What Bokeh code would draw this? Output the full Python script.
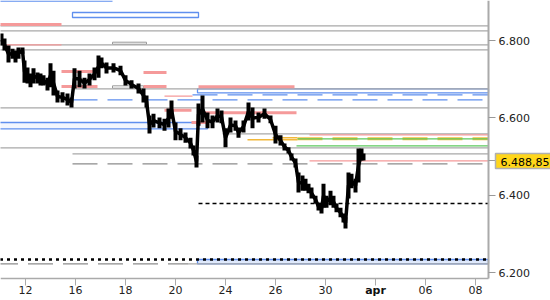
from bokeh.plotting import figure
from bokeh.models import Range1d, FixedTicker, Label, PrintfTickFormatter, LinearAxis
from bokeh.embed import file_html
from bokeh.resources import INLINE

# ---- axis ticks (trading-day index, 0 = 12 March) ----
tick_days = [0, 2, 4, 6, 8, 10, 12, 14, 16, 18]
tick_labels = ["12", "16", "18", "20", "24", "26", "30", "apr", "06", "08"]
price_ticks = [6.2, 6.4, 6.6, 6.8]

# ---- intraday price bars ----
bar_day = [-0.96, -0.84, -0.68, -0.52, -0.40, -0.28, -0.12, -0.04, 0.08, 0.20,
           0.32, 0.48, 0.60, 0.72, 0.88, 1.00, 1.12, 1.28, 1.48, 1.68,
           1.84, 1.96, 2.16, 2.36, 2.56, 2.76, 2.92, 3.04, 3.24, 3.52,
           3.80, 4.00, 4.24, 4.52, 4.72, 4.84, 4.96, 5.12, 5.36, 5.56,
           5.72, 5.84, 6.00, 6.20, 6.40, 6.60, 6.72, 6.84, 6.92, 7.08,
           7.28, 7.48, 7.68, 7.84, 8.00, 8.20, 8.40, 8.52, 8.72, 8.92,
           9.08, 9.32, 9.56, 9.80, 10.00, 10.20, 10.36, 10.52, 10.64, 10.80,
           10.92, 11.08, 11.20, 11.32, 11.44, 11.60, 11.72, 11.84, 11.92, 12.04,
           12.20, 12.32, 12.44, 12.60, 12.72, 12.80, 12.92, 13.04, 13.20, 13.32,
           13.44, 13.52]
bar_high = [6.818, 6.805, 6.787, 6.779, 6.774, 6.782, 6.782, 6.748, 6.730, 6.715,
            6.728, 6.717, 6.715, 6.710, 6.704, 6.741, 6.722, 6.671, 6.666, 6.663,
            6.653, 6.728, 6.722, 6.704, 6.715, 6.730, 6.761, 6.756, 6.743, 6.741,
            6.735, 6.710, 6.697, 6.689, 6.676, 6.658, 6.606, 6.611, 6.601, 6.598,
            6.624, 6.645, 6.588, 6.573, 6.562, 6.549, 6.529, 6.503, 6.637, 6.658,
            6.614, 6.606, 6.624, 6.619, 6.573, 6.601, 6.593, 6.575, 6.593, 6.640,
            6.627, 6.614, 6.624, 6.606, 6.580, 6.555, 6.534, 6.524, 6.508, 6.495,
            6.459, 6.451, 6.443, 6.430, 6.420, 6.399, 6.381, 6.379, 6.430, 6.399,
            6.412, 6.399, 6.379, 6.368, 6.353, 6.343, 6.459, 6.456, 6.443, 6.521,
            6.521, 6.508]
bar_low = [6.787, 6.774, 6.743, 6.753, 6.743, 6.753, 6.766, 6.691, 6.689, 6.679,
           6.689, 6.689, 6.684, 6.684, 6.671, 6.679, 6.658, 6.640, 6.640, 6.632,
           6.627, 6.676, 6.679, 6.676, 6.684, 6.697, 6.704, 6.728, 6.715, 6.717,
           6.710, 6.684, 6.676, 6.663, 6.640, 6.627, 6.560, 6.575, 6.573, 6.567,
           6.575, 6.598, 6.542, 6.542, 6.536, 6.521, 6.503, 6.472, 6.580, 6.588,
           6.573, 6.573, 6.588, 6.586, 6.524, 6.562, 6.567, 6.549, 6.562, 6.593,
           6.573, 6.588, 6.598, 6.586, 6.534, 6.529, 6.516, 6.508, 6.490, 6.472,
           6.407, 6.412, 6.412, 6.405, 6.392, 6.379, 6.361, 6.353, 6.368, 6.368,
           6.374, 6.368, 6.356, 6.343, 6.330, 6.314, 6.392, 6.418, 6.407, 6.433,
           6.490, 6.490]
last_price = 6.48885
last_label = "6.488,85"

# ---- chart window (data units) ----
X_LO, X_HI = -1.0, 18.52          # plotted area
Y_LO, Y_HI = 6.18501, 6.90336
FAR_L, FAR_R = -1.3, X_HI

# ---- level lines: value, start day, end day ----
gray_y = [6.8380, 6.8251, 6.7889, 6.7760, 6.6261, 6.5227, 6.6752, 6.5072, 6.5589, 6.2230]
gray_x0 = [FAR_L, FAR_L, FAR_L, FAR_L, FAR_L, FAR_L, 1.88, 1.88, 7.88, 6.52]
gray_dash_y = [6.4814, 6.2230]
gray_dash_x0 = [1.88, FAR_L]
gray_dash_x1 = [FAR_R, 6.52]
salmon_thick_y = [6.8413, 6.7199, 6.7173, 6.6811, 6.6811, 6.6804, 6.6199, 6.6132, 6.5881]
salmon_thick_x0 = [FAR_L, 1.44, 4.72, 1.44, 4.72, 6.92, 5.56, 7.00, 6.64]
salmon_thick_x1 = [1.44, 2.96, 5.64, 2.88, 5.64, 10.76, 6.64, 10.84, 7.28]
salmon_thin_y = [6.7889, 6.6561, 6.5563, 6.48885]
salmon_thin_x0 = [-0.76, 5.56, 11.36, 11.36]
salmon_thin_x1 = [1.44, 6.68, FAR_R, FAR_R]
blue_box_x0 = [1.88, FAR_L, 6.88, 6.88]
blue_box_x1 = [6.92, 7.28, FAR_R, FAR_R]
blue_box_top = [6.8724, 6.5881, 6.6752, 6.2341]
blue_box_bot = [6.8594, 6.5718, 6.6649, 6.2230]
blue_box_fill = ["#ffffff", "#f2f6fe", "#ffffff", "#dfe9fb"]
gray_box_x0 = [3.48, 3.48]
gray_box_x1 = [4.84, 4.72]
gray_box_top = [6.7956, 6.6829]
gray_box_bot = [6.7904, 6.6767]
blue_top_y, blue_top_x1 = 6.9016, 3.48
blue_dash_y = [6.6597, 6.6468]
blue_dash_x0 = [6.68, 1.88]
green_y = [6.5460, 6.5279]
green_x0 = [10.88, 10.84]
orange_y = [6.5434, 6.5486]
orange_x0 = [8.88, 9.88]
orange_x1 = [10.88, 10.88]
orange_dash_y, orange_dash_x0 = 6.5460, 10.88
black_dash_y, black_dash_x0 = 6.3788, 6.92
black_dot_y = 6.2341

# ---- figure: frame covers the whole canvas, axes placed at fixed locations ----
W, H = 550, 300
PX_PER_DAY = 488 / (X_HI - X_LO)
PX_PER_UNIT = 278 / (Y_HI - Y_LO)
view_x_hi = X_LO + W / PX_PER_DAY
view_y_lo = Y_HI - H / PX_PER_UNIT

p = figure(width=W, height=H, output_backend="svg", toolbar_location=None,
           x_range=Range1d(X_LO, view_x_hi), y_range=Range1d(view_y_lo, Y_HI),
           x_axis_location=None, y_axis_location=None,
           min_border_left=0, min_border_top=0, min_border_right=0, min_border_bottom=0)
p.outline_line_color = None
p.xgrid.visible = False
p.ygrid.visible = False
p.background_fill_color = "white"
p.border_fill_color = "white"

# boxes
p.quad(left=blue_box_x0, right=blue_box_x1, top=blue_box_top, bottom=blue_box_bot,
       fill_color=blue_box_fill, line_color="#5f8fee", line_width=1.3)
p.quad(left=gray_box_x0, right=gray_box_x1, top=gray_box_top, bottom=gray_box_bot,
       fill_color="white", line_color="#999999", line_width=1)

# gray lines
p.segment(x0=gray_x0, y0=gray_y, x1=[FAR_R] * len(gray_y), y1=gray_y,
          line_color="#a8a8a8", line_width=1.2)
p.segment(x0=gray_dash_x0, y0=gray_dash_y, x1=gray_dash_x1, y1=gray_dash_y,
          line_color="#8c8c8c", line_width=1.2, line_dash="25 10")

# blue lines
p.segment(x0=[FAR_L], y0=[blue_top_y], x1=[blue_top_x1], y1=[blue_top_y],
          line_color="#5f8fee", line_width=1.3)
p.segment(x0=blue_dash_x0, y0=blue_dash_y, x1=[FAR_R] * 2, y1=blue_dash_y,
          line_color="#5f8fee", line_width=1.3, line_dash="25 10")

# salmon
p.segment(x0=salmon_thick_x0, y0=salmon_thick_y, x1=salmon_thick_x1, y1=salmon_thick_y,
          line_color="#f59a9a", line_width=3)
p.segment(x0=salmon_thin_x0, y0=salmon_thin_y, x1=salmon_thin_x1, y1=salmon_thin_y,
          line_color="#f59a9a", line_width=1.3)

# orange & green
p.segment(x0=orange_x0, y0=orange_y, x1=orange_x1, y1=orange_y,
          line_color="#f2b83a", line_width=1.4)
p.segment(x0=[orange_dash_x0], y0=[orange_dash_y], x1=[FAR_R], y1=[orange_dash_y],
          line_color="#f2c040", line_width=3, line_dash="25 10")
p.segment(x0=green_x0, y0=green_y, x1=[FAR_R] * 2, y1=green_y,
          line_color="#5cc85c", line_width=1.3)

# black dashed / dotted
p.segment(x0=[black_dash_x0], y0=[black_dash_y], x1=[FAR_R], y1=[black_dash_y],
          line_color="black", line_width=1.3, line_dash="4 3")
p.segment(x0=[FAR_L], y0=[black_dot_y], x1=[FAR_R], y1=[black_dot_y],
          line_color="black", line_width=2.5, line_dash="3 4")

# price
mid = [(h + l) / 2 for h, l in zip(bar_high, bar_low)]
p.line(bar_day, mid, line_color="black", line_width=3.5)
p.segment(x0=bar_day, y0=bar_low, x1=bar_day, y1=bar_high,
          line_color="black", line_width=4)

# axes
FONT = "DejaVu Sans"
xa = LinearAxis(fixed_location=Y_LO, bounds=(X_LO, X_HI))
xa.ticker = FixedTicker(ticks=tick_days)
xa.major_label_overrides = {d: (lab if lab != "apr" else "") for d, lab in zip(tick_days, tick_labels)}
xa.axis_line_color = "#aaaaaa"
xa.axis_line_width = 1.5
xa.major_tick_line_color = "#aaaaaa"
xa.major_tick_out = 7
xa.major_tick_in = 0
xa.minor_tick_line_color = None
xa.major_label_standoff = 0
xa.major_label_text_font = FONT
xa.major_label_text_font_size = "11px"
xa.major_label_text_color = "#222222"
p.add_layout(xa, "below")

ya = LinearAxis(fixed_location=X_HI, bounds=(Y_LO, Y_HI))
ya.ticker = FixedTicker(ticks=price_ticks + [last_price])
ya.formatter = PrintfTickFormatter(format="%.3f")
ya.major_label_overrides = {last_price: ""}
ya.axis_line_color = "#aaaaaa"
ya.axis_line_width = 2
ya.major_tick_line_color = "#999999"
ya.major_tick_out = 7
ya.major_tick_in = 0
ya.minor_tick_line_color = None
ya.major_label_standoff = 3
ya.major_label_text_font = FONT
ya.major_label_text_font_size = "11px"
ya.major_label_text_color = "#222222"
p.add_layout(ya, "right")

# bold month label
month_day = tick_days[tick_labels.index("apr")]
p.add_layout(Label(x=month_day, y=Y_LO, y_offset=-12, text="apr",
                   text_align="center", text_baseline="middle",
                   text_font=FONT, text_font_size="11px", text_font_style="bold",
                   text_color="#111111"))

# last price marker
p.add_layout(Label(x=X_HI, y=last_price, x_offset=7, text=last_label,
                   text_align="left", text_baseline="middle",
                   text_font=FONT, text_font_size="11px", text_color="black",
                   background_fill_color="#ffd61a", border_line_color="#b0b0b0",
                   border_line_width=1.5,
                   padding=(5, 12, 5, 2)))

open("out.html", "w").write(file_html(p, INLINE))
